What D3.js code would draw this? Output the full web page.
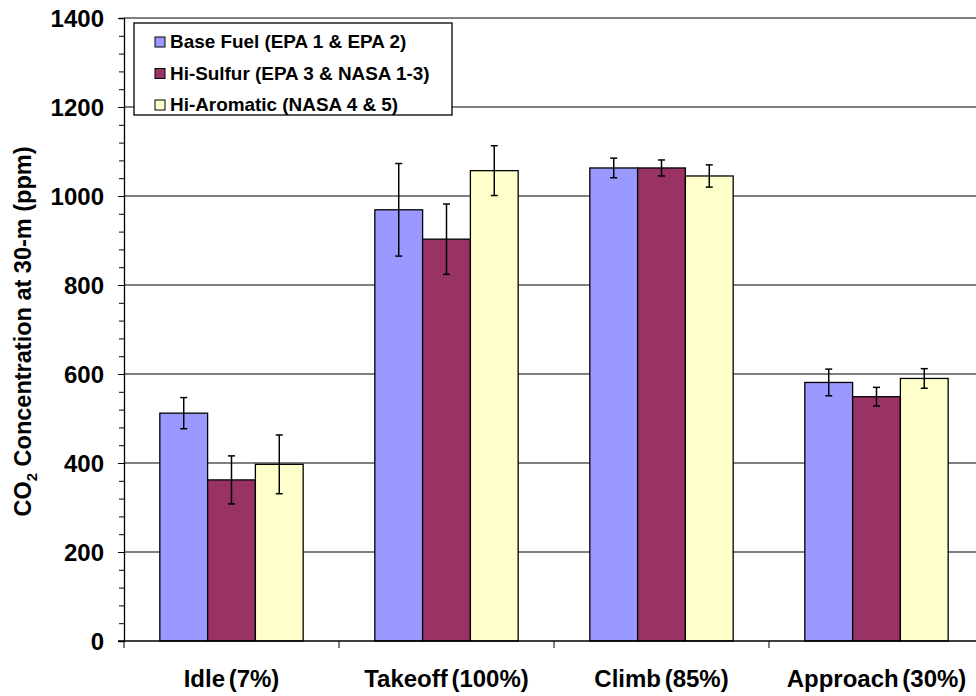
<!DOCTYPE html>
<html>
<head>
<meta charset="utf-8">
<script src="https://cdn.jsdelivr.net/npm/d3@7"></script>
<style>
  body { margin: 0; background: #fff; }
  svg { display: block; font-family: "Liberation Sans", Arial, sans-serif; }
</style>
</head>
<body>
<div id="chart"></div>
<script>
// data
const modes = ["Idle (7%)", "Takeoff (100%)", "Climb (85%)", "Approach (30%)"];
const fuels = ["Base Fuel (EPA 1 & EPA 2)", "Hi-Sulfur (EPA 3 & NASA 1-3)", "Hi-Aromatic (NASA 4 & 5)"];
const baseFuel = [512, 969, 1063, 581];
const hiSulfur = [362, 903, 1063, 549];
const hiAromatic = [397, 1057, 1045, 590];
const baseErr = [35, 104, 22, 30];
const sulfurErr = [54, 79, 18, 21];
const aromaticErr = [66, 56, 25, 22];
const yTicks = [0, 200, 400, 600, 800, 1000, 1200, 1400];

const colors = ["#9999FF", "#993366", "#FFFFCC"];
const seriesVals = [baseFuel, hiSulfur, hiAromatic];
const seriesErr = [baseErr, sulfurErr, aromaticErr];

const width = 976, height = 696;
const margin = { top: 18, left: 124, bottom: 55 };
const plotRight = 984; // plot area runs a bit past the window edge

const svg = d3.select("#chart").append("svg")
    .attr("width", width)
    .attr("height", height);

const x = d3.scaleBand()
    .domain(modes)
    .range([margin.left, plotRight])
    .paddingInner(0)
    .paddingOuter(0);

const y = d3.scaleLinear()
    .domain([0, 1400])
    .range([height - margin.bottom, margin.top]);

// inner band for the 3 bars (gap width ~150%)
const barW = x.bandwidth() / (3 + 1.5);
const xs = d3.scaleBand()
    .domain(d3.range(3))
    .range([0, barW * 3]);

// gridlines
svg.append("g")
    .selectAll("line")
    .data(yTicks.filter(d => d > 0))
    .join("line")
    .attr("x1", margin.left)
    .attr("x2", plotRight)
    .attr("y1", d => y(d))
    .attr("y2", d => y(d))
    .attr("stroke", "#000")
    .attr("stroke-width", 1);

// bars
const table = [];
modes.forEach((m, i) => {
    seriesVals.forEach((s, j) => {
        table.push({ mode: m, k: j, v: s[i], e: seriesErr[j][i] });
    });
});

const groups = svg.append("g");
groups.selectAll("rect")
    .data(table)
    .join("rect")
    .attr("x", d => x(d.mode) + (x.bandwidth() - barW * 3) / 2 + xs(d.k))
    .attr("y", d => y(d.v))
    .attr("width", barW)
    .attr("height", d => y(0) - y(d.v))
    .attr("fill", d => colors[d.k])
    .attr("stroke", "#000")
    .attr("stroke-width", 1.3);

// error bars
const cx = d => x(d.mode) + (x.bandwidth() - barW * 3) / 2 + xs(d.k) + barW / 2;
const err = svg.append("g").attr("stroke", "#000").attr("stroke-width", 1.5);
err.selectAll("line.v")
    .data(table)
    .join("line")
    .attr("class", "v")
    .attr("x1", cx).attr("x2", cx)
    .attr("y1", d => y(d.v + d.e))
    .attr("y2", d => y(d.v - d.e));
err.selectAll("line.top")
    .data(table)
    .join("line")
    .attr("class", "top")
    .attr("x1", d => cx(d) - 3.5).attr("x2", d => cx(d) + 3.5)
    .attr("y1", d => y(d.v + d.e)).attr("y2", d => y(d.v + d.e));
err.selectAll("line.bot")
    .data(table)
    .join("line")
    .attr("class", "bot")
    .attr("x1", d => cx(d) - 3.5).attr("x2", d => cx(d) + 3.5)
    .attr("y1", d => y(d.v - d.e)).attr("y2", d => y(d.v - d.e));

// y axis
const yAxis = svg.append("g")
    .attr("transform", `translate(${margin.left},0)`)
    .call(d3.axisLeft(y).tickValues(d3.range(0, 1401, 40)).tickSize(5).tickFormat(""));
yAxis.select(".domain").attr("stroke", "#000").attr("stroke-width", 1.3);
yAxis.selectAll(".tick line").attr("stroke", "#000");
yAxis.selectAll(".tick")
    .filter(d => d % 200 === 0)
    .select("line").attr("x2", -6);

svg.append("g")
    .selectAll("text")
    .data(yTicks)
    .join("text")
    .attr("x", 104)
    .attr("y", d => y(d))
    .attr("dy", "0.36em")
    .attr("text-anchor", "end")
    .attr("font-size", 24)
    .attr("font-weight", "bold")
    .text(d => d);

// x axis
const xAxisG = svg.append("g")
    .attr("transform", `translate(0,${y(0)})`);
xAxisG.append("line")
    .attr("x1", margin.left - 6).attr("x2", plotRight)
    .attr("stroke", "#000").attr("stroke-width", 1.3);
xAxisG.selectAll("line.tk")
    .data(modes.concat(["end"]))
    .join("line")
    .attr("class", "tk")
    .attr("x1", (d, i) => margin.left + i * x.bandwidth())
    .attr("x2", (d, i) => margin.left + i * x.bandwidth())
    .attr("y1", 0).attr("y2", 7)
    .attr("stroke", "#000");
xAxisG.selectAll("text")
    .data(modes)
    .join("text")
    .attr("x", d => x(d) + x.bandwidth() / 2)
    .attr("y", 46)
    .attr("text-anchor", "middle")
    .attr("font-size", 24)
    .attr("font-weight", "bold")
    .attr("word-spacing", -3)
    .text(d => d);

// y title
const yt = svg.append("text")
    .attr("transform", `translate(31,${(y(0) + y(1400)) / 2 + 2}) rotate(-90)`)
    .attr("text-anchor", "middle")
    .attr("font-size", 23.5)
    .attr("font-weight", "bold");
yt.append("tspan").text("CO");
yt.append("tspan").attr("font-size", 15).attr("dy", 6).text("2");
yt.append("tspan").attr("dy", -6).text(" Concentration at 30-m (ppm)");

// legend
const lg = svg.append("g").attr("transform", "translate(134,23)");
lg.append("rect")
    .attr("width", 318).attr("height", 92)
    .attr("fill", "#fff").attr("stroke", "#000").attr("stroke-width", 1.3);
const li = lg.selectAll("g.item")
    .data(fuels)
    .join("g")
    .attr("class", "item")
    .attr("transform", (d, i) => `translate(21,${19 + i * 31.5})`);
li.append("rect")
    .attr("x", 0).attr("y", -5)
    .attr("width", 10).attr("height", 10)
    .attr("fill", (d, i) => colors[i])
    .attr("stroke", "#000").attr("stroke-width", 1);
li.append("text")
    .attr("transform", "translate(15,0) scale(1.08,1)")
    .attr("dy", "0.36em")
    .attr("font-size", 17.5)
    .attr("font-weight", "bold")
    .text(d => d);
</script>
</body>
</html>
